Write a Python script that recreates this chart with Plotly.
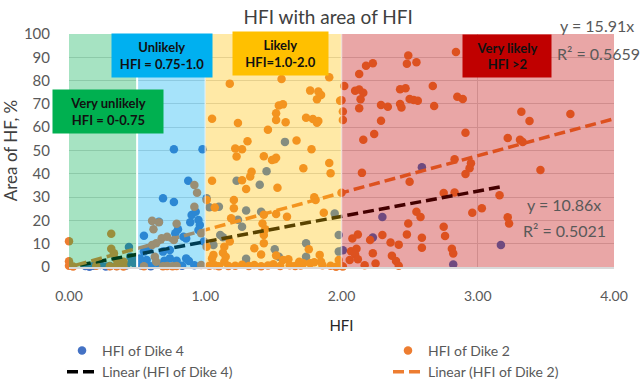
import plotly.graph_objects as go

# ---- data -------------------------------------------------------------
DIKE4_X = [0.12, 0.15, 0.18, 0.23, 0.27, 0.30, 0.35, 0.42, 0.44, 0.45, 0.46, 0.47, 0.48,
           0.77, 0.98, 0.875, 0.69, 0.77, 0.90, 0.95, 0.66, 0.89, 0.80, 0.78, 0.96, 0.95,
           0.55, 0.84, 0.86, 0.99, 0.55, 0.58, 0.69, 0.74, 0.52, 0.57, 0.70, 0.74, 0.79,
           0.86, 0.88, 0.53, 0.60, 0.66, 0.83, 0.92, 0.93,
           1.01, 1.03, 1.10, 1.30, 1.41, 1.24, 1.27, 1.11, 1.13, 1.06, 1.51, 1.74, 1.74,
           1.95, 1.98, 1.98, 1.30, 1.30, 1.585, 1.45, 1.23, 1.40, 1.54,
           2.59, 2.30, 2.23, 2.01, 3.17, 2.82]
DIKE4_Y = [0.4, 0.1, 0.5, 0.9, 0.2, 0.4, 0.4, 0.6, 8.6, 4.4, 2.3, 3.6, 1.6,
           50.5, 50.5, 37.0, 29.5, 27.9, 22.3, 20.2, 19.4, 19.2, 16.2, 14.5, 18.0, 15.9,
           13.4, 13.0, 12.2, 10.9, 6.6, 8.0, 6.6, 7.3, 3.7, 3.0, 2.7, 3.7, 2.7,
           3.7, 2.6, 0.6, 0.3, 1.0, 0.5, 0.8, 23.7,
           29.5, 25.6, 25.9, 24.2, 23.7, 20.3, 17.3, 13.7, 12.8, 9.4, 7.6, 10.2, 4.4,
           23.0, 13.7, 6.6, 3.5, 1.6, 53.7, 41.1, 37.0, 35.3, 4.4,
           42.8, 21.5, 12.7, 7.2, 9.4, 1.1]

DIKE2_X = [0.00, 0.31, 0.31, 0.33, 0.00, 0.00, 0.03, 0.20, 0.30, 0.35, 0.40, 0.35, 0.40,
           0.94, 0.92, 0.92, 0.61, 0.66, 0.62, 0.79, 0.68, 0.72, 0.77, 0.64, 0.61, 0.97,
           0.63, 0.64, 0.69, 0.72, 0.76, 0.79, 0.97, 0.55,
           1.56, 1.91, 1.18, 1.77, 1.83, 1.85, 1.82, 1.99, 1.54, 1.57, 1.52, 1.52, 1.59,
           1.05, 1.24, 1.74, 1.79, 1.83, 1.82, 1.46, 1.67, 1.31, 1.22, 1.27, 1.78, 1.23,
           1.43, 1.49, 1.52, 1.51, 1.91, 1.72, 1.34, 1.33, 1.92, 1.27, 1.05, 1.30, 1.53,
           2.00, 1.01, 1.07, 1.21, 1.21, 1.43, 1.52, 1.60, 1.19, 1.42, 1.87, 1.80, 1.81,
           1.43, 1.43, 1.18, 1.36, 1.76, 1.41, 1.52, 1.01, 1.13, 1.15, 1.06, 1.14, 1.14,
           1.05, 1.44, 1.57, 1.61, 1.84, 1.85, 1.98, 2.00, 1.96, 1.69, 1.72, 1.77, 1.80,
           1.03, 1.07, 1.10, 1.17, 1.22, 1.27, 1.32, 1.36, 1.41, 1.46, 1.50, 1.55, 1.62,
           1.66, 1.70, 1.86, 1.92,
           2.84, 2.49, 2.48, 2.55, 2.23, 2.18, 2.13, 2.02, 2.10, 2.13, 2.16, 2.14, 2.00,
           2.01, 2.01, 2.13, 2.29, 2.34, 2.43, 2.47, 2.43, 2.44, 2.50, 2.53, 2.56, 2.67,
           2.68, 2.85, 2.89, 2.29, 2.24, 2.16, 2.91, 2.83, 2.15, 2.50,
           3.32, 3.38, 3.68, 3.22, 3.31, 3.33, 3.46, 2.95, 2.94, 2.91, 3.16, 3.03, 2.96,
           3.22, 3.23, 2.75, 2.83, 2.55, 2.58, 2.49, 2.75, 2.76, 2.08, 2.12, 2.21, 2.30,
           2.48, 2.59, 2.36, 2.42, 2.59, 2.81, 2.82, 2.07, 2.11, 2.10, 2.06, 2.12, 2.23,
           2.37, 2.40, 2.42, 2.25, 2.17, 2.01]
DIKE2_Y = [11.1, 14.3, 7.8, 5.9, 2.5, 0.5, 0.2, 0.5, 0.3, 0.3, 0.2, 3.0, 2.3,
           31.9, 35.2, 25.9, 19.8, 19.2, 16.2, 18.6, 12.3, 13.0, 11.6, 10.2, 9.4, 14.5,
           4.4, 2.3, 0.3, 0.4, 0.3, 0.4, 0.9, 0.3,
           80.7, 81.4, 78.7, 75.7, 75.3, 73.8, 72.0, 71.4, 69.3, 69.8, 66.0, 63.1, 62.1,
           63.6, 61.8, 64.1, 63.5, 62.7, 61.9, 58.9, 54.3, 54.0, 50.9, 50.5, 50.5, 47.4,
           47.5, 45.9, 46.9, 46.2, 44.6, 42.4, 40.9, 38.8, 40.2, 37.2, 37.0, 33.5, 34.0,
           31.9, 28.8, 25.5, 28.8, 25.2, 22.4, 22.7, 21.6, 20.9, 18.7, 23.3, 29.9, 28.8,
           13.7, 10.2, 10.9, 8.0, 7.6, 5.4, 4.9, 8.7, 6.1, 4.4, 5.2, 2.3, 8.7,
           3.7, 16.2, 3.0, 3.3, 5.2, 2.3, 3.0, 0.4, 0.1, 2.3, 1.6, 1.6, 2.0,
           0.5, 0.8, 0.3, 0.4, 0.5, 1.0, 0.4, 0.9, 0.3, 0.6, 1.2, 0.4, 0.8,
           0.4, 0.6, 0.8, 0.5,
           92.3, 90.8, 87.2, 87.9, 87.4, 86.4, 82.8, 77.7, 75.6, 76.2, 74.8, 72.0, 71.6,
           66.7, 63.1, 68.1, 69.5, 68.8, 76.3, 76.7, 70.0, 68.5, 72.1, 71.7, 71.4, 77.7,
           69.1, 73.1, 72.1, 62.8, 57.1, 54.6, 57.6, 46.2, 40.4, 36.6,
           66.6, 62.7, 65.7, 55.4, 54.6, 53.6, 41.6, 44.5, 42.4, 39.9, 30.8, 25.2, 23.3,
           21.3, 18.7, 31.8, 32.0, 23.7, 21.5, 18.7, 17.3, 13.3, 12.2, 13.9, 11.6, 13.7,
           14.0, 12.6, 10.5, 9.6, 8.3, 7.8, 5.8, 6.8, 7.8, 5.4, 3.0, 3.3, 5.9,
           4.8, 2.6, 0.5, 1.5, 0.8, 0.2]

# linear trendlines through the origin
FIT4_SLOPE, FIT4_R2, FIT4_XSPAN = 10.86, 0.5021, [0.08, 3.18]
FIT2_SLOPE, FIT2_R2, FIT2_XSPAN = 15.91, 0.5659, [0.05, 4.00]

# risk zones along the HFI axis
ZONE_EDGES = [0.0, 0.5, 1.0, 2.0, 4.0]
ZONE_FILLS = ["#00b050", "#00b0f0", "#ffc000", "#c00000"]
ZONE_LABELS = ["Very unlikely<br>HFI = 0-0.75", "Unlikely<br>HFI = 0.75-1.0",
               "Likely<br>HFI=1.0-2.0", "Very likely<br>HFI >2"]

X_TICKS = [0, 1, 2, 3, 4]
Y_TICKS = list(range(0, 101, 10))

FONT = "Lato"
BLUE = "#4472c4"
ORANGE = "#ed7d31"
W, H = 641, 387
L, R, T, B = 69, 27, 34, 120
PW, PH = W - L - R, H - T - B


def px_to_paper(px, py):
    """Figure pixel position -> plot-area paper coordinates."""
    return (px - L) / PW, (H - B - py) / PH


fig = go.Figure()

fig.add_trace(go.Scatter(x=DIKE4_X, y=DIKE4_Y, mode="markers", name="HFI of Dike 4",
                         marker=dict(color=BLUE, size=8.5), cliponaxis=False,
                         legend="legend"))
fig.add_trace(go.Scatter(x=DIKE2_X, y=DIKE2_Y, mode="markers", name="HFI of Dike 2",
                         marker=dict(color=ORANGE, size=8.5), cliponaxis=False,
                         legend="legend2"))
fig.add_trace(go.Scatter(x=FIT4_XSPAN, y=[FIT4_SLOPE * v for v in FIT4_XSPAN],
                         mode="lines", name="Linear (HFI of Dike 4)",
                         line=dict(color="#000000", width=3.5, dash="11px,5px"),
                         legend="legend"))
fig.add_trace(go.Scatter(x=FIT2_XSPAN, y=[FIT2_SLOPE * v for v in FIT2_XSPAN],
                         mode="lines", name="Linear (HFI of Dike 2)",
                         line=dict(color=ORANGE, width=3.5, dash="11px,5px"),
                         legend="legend2"))

# translucent zone bands laid over the markers
for x0, x1, col in zip(ZONE_EDGES[:-1], ZONE_EDGES[1:], ZONE_FILLS):
    fig.add_shape(type="rect", xref="x", yref="y", x0=x0, x1=x1, y0=0, y1=100,
                  fillcolor=col, opacity=0.35, line_width=0, layer="above")
for xe, w, op in [(0.5, 2, 1.0), (1.0, 1.5, 0.6), (2.0, 1.5, 0.6)]:
    fig.add_shape(type="line", xref="x", yref="y", x0=xe, x1=xe, y0=0, y1=100,
                  line=dict(color="white", width=w), opacity=op, layer="above")

# zone label boxes: (x centre, y centre, width px, height px)
box_geom = [(0.286, 66.7, 110, 43), (0.682, 90.8, 100, 43),
            (1.552, 91.6, 95, 43), (3.213, 90.6, 88, 42)]
for label, col, (bx, by, bw, bh) in zip(ZONE_LABELS, ZONE_FILLS, box_geom):
    fig.add_annotation(x=bx, y=by, xref="x", yref="y", text=f"<b>{label}</b>",
                       showarrow=False, bgcolor=col, width=bw, height=bh,
                       borderpad=0, align="center", valign="middle",
                       font=dict(family=FONT, size=13, color="#111111"))

# trendline equations (left edge, vertical centre in figure pixels)
eq_font = dict(family=FONT, size=16, color="#595959")
for txt, px, py in [(f"y = {FIT2_SLOPE}x", 558, 25),
                    (f"R² = {FIT2_R2}", 555, 54),
                    (f"y = {FIT4_SLOPE}x", 525, 204),
                    (f"R² = {FIT4_R2}", 521, 230)]:
    ax, ay = px_to_paper(px, py)
    fig.add_annotation(x=ax, y=ay, xref="paper", yref="paper",
                       text=txt, showarrow=False, xanchor="left", yanchor="middle",
                       font=eq_font)

legend_font = dict(family=FONT, size=14, color="#595959")
lx1, ly = px_to_paper(62, 335)
lx2, _ = px_to_paper(388, 335)
fig.update_layout(
    width=W, height=H,
    margin=dict(l=L, r=R, t=T, b=B, autoexpand=False),
    paper_bgcolor="white", plot_bgcolor="white",
    title=dict(text="HFI with area of HFI", x=0.512, xref="container",
               y=1 - 17 / H, yref="container", xanchor="center", yanchor="middle",
               font=dict(family=FONT, size=19, color="#404040")),
    xaxis=dict(range=[0, 4], tickvals=X_TICKS, tickformat=".2f",
               showgrid=True, gridcolor="#d9d9d9", gridwidth=1,
               zeroline=False, showline=True, linecolor="#d9d9d9", linewidth=1.5,
               ticks="", ticklabelstandoff=15,
               tickfont=dict(family=FONT, size=14, color="#595959"),
               title=dict(text="HFI", standoff=18,
                          font=dict(family=FONT, size=15, color="#262626"))),
    yaxis=dict(range=[0, 100], tickvals=Y_TICKS,
               showgrid=True, gridcolor="#d9d9d9", gridwidth=1,
               zeroline=False, showline=False, ticks="", ticklabelstandoff=18,
               tickfont=dict(family=FONT, size=15, color="#595959"),
               title=dict(text="Area of HF, %", standoff=2,
                          font=dict(family=FONT, size=17, color="#404040"))),
    legend=dict(x=lx1, y=ly, xanchor="left", yanchor="top",
                bgcolor="rgba(0,0,0,0)", tracegroupgap=0, font=legend_font),
    legend2=dict(x=lx2, y=ly, xanchor="left", yanchor="top",
                 bgcolor="rgba(0,0,0,0)", tracegroupgap=0, font=legend_font),
)

fig.write_html("out.html")
